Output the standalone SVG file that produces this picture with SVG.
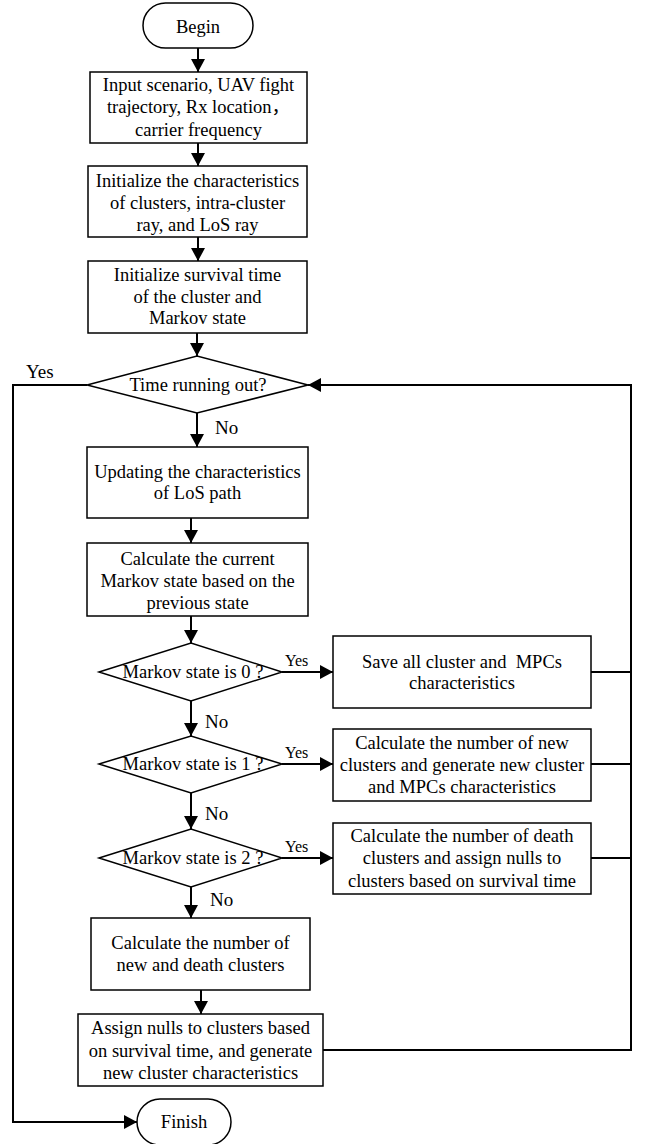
<svg xmlns="http://www.w3.org/2000/svg" width="646" height="1144" viewBox="0 0 646 1144">
<style>
.n{fill:#fff;stroke:#000;stroke-width:1.5}
.t{font-family:"Liberation Serif","Times New Roman","Noto Sans CJK SC",serif;font-size:18.5px;fill:#000;text-anchor:middle}
.s{font-family:"Liberation Serif","Times New Roman",serif;font-size:16px;fill:#000}
.l{font-family:"Liberation Serif","Times New Roman",serif;font-size:19px;fill:#000}
.c{fill:none;stroke:#000;stroke-width:2}
</style>
<defs>
<marker id="ah" markerUnits="userSpaceOnUse" markerWidth="14" markerHeight="14" refX="13" refY="7" orient="auto">
<path d="M0,0 L13,7 L0,14 z" fill="#000"/>
</marker>
</defs>
<g id="connectors">
<line class="c" x1="198" y1="48" x2="198" y2="72" marker-end="url(#ah)"/>
<line class="c" x1="198" y1="143" x2="198" y2="166" marker-end="url(#ah)"/>
<line class="c" x1="198" y1="237" x2="198" y2="261" marker-end="url(#ah)"/>
<line class="c" x1="197" y1="333" x2="197" y2="356" marker-end="url(#ah)"/>
<line class="c" x1="197" y1="413" x2="197" y2="447" marker-end="url(#ah)"/>
<line class="c" x1="191" y1="518" x2="191" y2="543" marker-end="url(#ah)"/>
<line class="c" x1="191" y1="616" x2="191" y2="643" marker-end="url(#ah)"/>
<line class="c" x1="191" y1="701" x2="191" y2="736" marker-end="url(#ah)"/>
<line class="c" x1="191" y1="793" x2="191" y2="829" marker-end="url(#ah)"/>
<line class="c" x1="191" y1="887" x2="191" y2="918" marker-end="url(#ah)"/>
<line class="c" x1="201" y1="990" x2="201" y2="1014" marker-end="url(#ah)"/>
<line class="c" x1="282" y1="672" x2="333" y2="672" marker-end="url(#ah)"/>
<line class="c" x1="282" y1="764" x2="333" y2="764" marker-end="url(#ah)"/>
<line class="c" x1="282" y1="858" x2="333" y2="858" marker-end="url(#ah)"/>
<polyline class="c" points="87,385 13,385 13,1122 137,1122" marker-end="url(#ah)"/>
<polyline class="c" points="323,1050 631,1050 631,385 308,385" marker-end="url(#ah)"/>
<line class="c" x1="591" y1="672" x2="631" y2="672"/>
<line class="c" x1="591" y1="764" x2="631" y2="764"/>
<line class="c" x1="591" y1="858" x2="631" y2="858"/>
<text class="l" x="26" y="378">Yes</text>
<text class="l" x="215" y="434">No</text>
<text class="l" x="205" y="728">No</text>
<text class="l" x="205" y="820">No</text>
<text class="l" x="210" y="906">No</text>
<text class="s" x="285" y="666">Yes</text>
<text class="s" x="285" y="758">Yes</text>
<text class="s" x="285" y="852">Yes</text>
</g>
<g id="begin">
<rect class="n" x="143" y="3" width="110" height="45" rx="22.5"/>
<text class="t" x="198" y="33">Begin</text>
</g>
<g id="input">
<rect class="n" x="90" y="72" width="217" height="71"/>
<text class="t" x="198.5" y="91">Input scenario, UAV fight</text>
<text class="t" x="198.5" y="113">trajectory, Rx location，</text>
<text class="t" x="198.5" y="136">carrier frequency</text>
</g>
<g id="init-clusters">
<rect class="n" x="88" y="166" width="219" height="71"/>
<text class="t" x="197.5" y="187">Initialize the characteristics</text>
<text class="t" x="197.5" y="209">of clusters, intra-cluster</text>
<text class="t" x="197.5" y="231">ray, and LoS ray</text>
</g>
<g id="init-survival">
<rect class="n" x="88" y="261" width="219" height="72"/>
<text class="t" x="197.5" y="281">Initialize survival time</text>
<text class="t" x="197.5" y="303">of the cluster and</text>
<text class="t" x="197.5" y="324">Markov state</text>
</g>
<g id="time">
<polygon class="n" points="87,385 197,356 308,385 197,413"/>
<text class="t" x="198" y="391">Time running out?</text>
</g>
<g id="update-los">
<rect class="n" x="87" y="447" width="221" height="71"/>
<text class="t" x="197.5" y="478">Updating the characteristics</text>
<text class="t" x="197.5" y="499">of LoS path</text>
</g>
<g id="calc-markov">
<rect class="n" x="87" y="543" width="221" height="73"/>
<text class="t" x="197.5" y="565">Calculate the current</text>
<text class="t" x="197.5" y="587">Markov state based on the</text>
<text class="t" x="197.5" y="609">previous state</text>
</g>
<g id="state0">
<polygon class="n" points="99,672 191,643 282,672 191,701"/>
<text class="t" x="193" y="678">Markov state is 0 ?</text>
</g>
<g id="save">
<rect class="n" x="333" y="636" width="258" height="72"/>
<text class="t" x="462" y="668">Save all cluster and&#160; MPCs</text>
<text class="t" x="462" y="689">characteristics</text>
</g>
<g id="state1">
<polygon class="n" points="99,764 191,736 282,764 191,793"/>
<text class="t" x="193" y="770">Markov state is 1 ?</text>
</g>
<g id="new-clusters">
<rect class="n" x="333" y="729" width="258" height="72"/>
<text class="t" x="462" y="749">Calculate the number of new</text>
<text class="t" x="462" y="771">clusters and generate new cluster</text>
<text class="t" x="462" y="793">and MPCs characteristics</text>
</g>
<g id="state2">
<polygon class="n" points="99,858 191,829 282,858 191,887"/>
<text class="t" x="193" y="864">Markov state is 2 ?</text>
</g>
<g id="death-clusters">
<rect class="n" x="333" y="823" width="258" height="71"/>
<text class="t" x="462" y="842">Calculate the number of death</text>
<text class="t" x="462" y="864">clusters and assign nulls to</text>
<text class="t" x="462" y="887">clusters based on survival time</text>
</g>
<g id="new-death">
<rect class="n" x="91" y="918" width="219" height="72"/>
<text class="t" x="200.5" y="949">Calculate the number of</text>
<text class="t" x="200.5" y="971">new and death clusters</text>
</g>
<g id="assign">
<rect class="n" x="78" y="1014" width="245" height="72"/>
<text class="t" x="200.5" y="1034">Assign nulls to clusters based</text>
<text class="t" x="200.5" y="1057">on survival time, and generate</text>
<text class="t" x="200.5" y="1079">new cluster characteristics</text>
</g>
<g id="finish">
<rect class="n" x="137" y="1099" width="94" height="46" rx="23"/>
<text class="t" x="184" y="1128">Finish</text>
</g>
</svg>
